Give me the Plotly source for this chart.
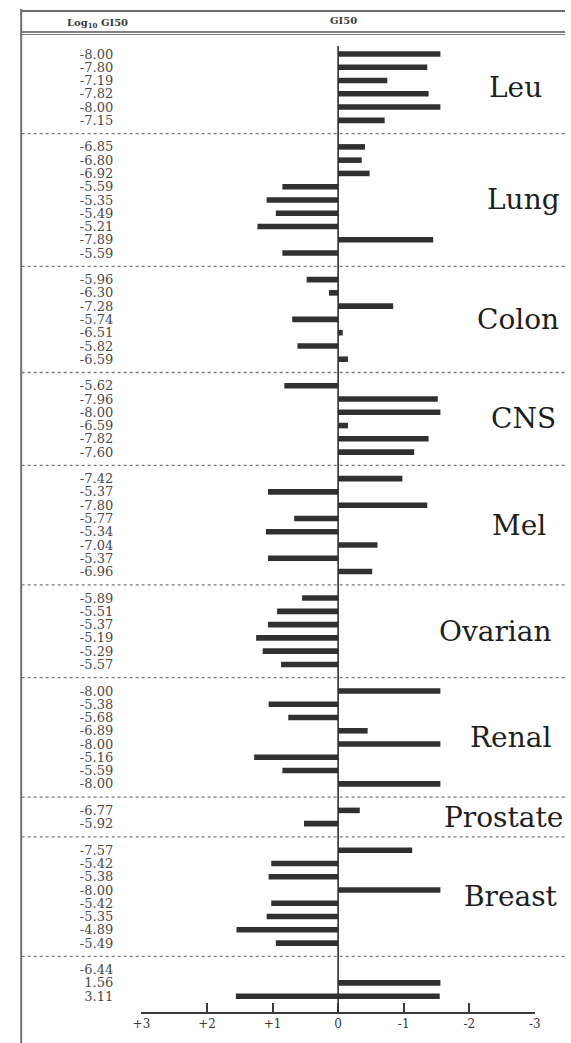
import plotly.graph_objects as go

# ---------------- data (log10 GI50 per cell line, grouped by panel) ----------------
groups = ["Leu", "Lung", "Colon", "CNS", "Mel", "Ovarian", "Renal", "Prostate", "Breast"]
leu = [-8.00, -7.80, -7.19, -7.82, -8.00, -7.15]
lung = [-6.85, -6.80, -6.92, -5.59, -5.35, -5.49, -5.21, -7.89, -5.59]
colon = [-5.96, -6.30, -7.28, -5.74, -6.51, -5.82, -6.59]
cns = [-5.62, -7.96, -8.00, -6.59, -7.82, -7.60]
mel = [-7.42, -5.37, -7.80, -5.77, -5.34, -7.04, -5.37, -6.96]
ovarian = [-5.89, -5.51, -5.37, -5.19, -5.29, -5.57]
renal = [-8.00, -5.38, -5.68, -6.89, -8.00, -5.16, -5.59, -8.00]
prostate = [-6.77, -5.92]
breast = [-7.57, -5.42, -5.38, -8.00, -5.42, -5.35, -4.89, -5.49]
panel_values = [leu, lung, colon, cns, mel, ovarian, renal, prostate, breast]

mean_log = -6.44   # MG-MID
delta = 1.56
range_ = 3.11
summary_labels = ["-6.44", "1.56", "3.11"]

x_ticks = [3, 2, 1, 0, -1, -2, -3]
x_tick_text = ["+3", "+2", "+1", "0", "-1", "-2", "-3"]

# ---------------- layout helpers ----------------
W, H = 571, 1043
def px_x(p):
    return p / W
def px_y(p):
    return 1 - p / H

PITCH = 13.27      # pixels per row slot
FIRST_ROW_PX = 54  # pixel y of first row
label_x_px = [520, 528, 523, 528, 524, 500, 515, 508, 516]  # group label centres

# build row slots (a separator occupies one slot between panels)
slot = 0
row_slots, row_text, bar_x = [], [], []
sep_slots, group_centres = [], []
for vals in panel_values:
    start = slot
    for v in vals:
        row_slots.append(slot)
        row_text.append(f"{v:.2f}")
        bar_x.append(round(v - mean_log, 2))
        slot += 1
    group_centres.append((start + slot - 1) / 2)
    sep_slots.append(slot)
    slot += 1
summary_slots = [slot, slot + 1, slot + 2]
all_slots = row_slots + summary_slots
all_text = row_text + summary_labels

y_top = -FIRST_ROW_PX / PITCH
y_bot = (H - FIRST_ROW_PX) / PITCH
AXIS_PX = 1013

BAR_COLOR = "#303030"

fig = go.Figure()
fig.add_trace(go.Bar(
    x=bar_x, y=row_slots, orientation="h", width=0.42,
    marker=dict(color=BAR_COLOR, line=dict(width=0)),
    hoverinfo="skip", showlegend=False,
))
fig.add_trace(go.Bar(
    x=[-delta, -range_], y=summary_slots[1:], base=[0, delta],
    orientation="h", width=0.42,
    marker=dict(color=BAR_COLOR, line=dict(width=0)),
    hoverinfo="skip", showlegend=False,
))

shapes = []
# top border and header line
shapes.append(dict(type="line", xref="paper", yref="paper", x0=px_x(12), x1=1,
                   y0=px_y(11), y1=px_y(11), line=dict(color="#6a6a6a", width=2)))
shapes.append(dict(type="line", xref="paper", yref="paper", x0=px_x(12), x1=1,
                   y0=px_y(32), y1=px_y(32), line=dict(color="#555555", width=1.5)))
shapes.append(dict(type="line", xref="paper", yref="paper", x0=px_x(12), x1=1,
                   y0=px_y(34.5), y1=px_y(34.5), line=dict(color="#777777", width=1.2)))
# left border
shapes.append(dict(type="line", xref="paper", yref="paper", x0=px_x(12.5), x1=px_x(12.5),
                   y0=px_y(9), y1=0, line=dict(color="#707070", width=2)))
# dotted panel separators
for s in sep_slots:
    shapes.append(dict(type="line", xref="paper", yref="y", x0=px_x(13), x1=1,
                       y0=s, y1=s, line=dict(color="#7a7a7a", width=1.3, dash="dot")))
# zero line
shapes.append(dict(type="line", xref="x", yref="paper", x0=0, x1=0,
                   y0=px_y(46), y1=px_y(AXIS_PX), line=dict(color="#2e2e2e", width=1.6)))

annotations = []
annotations.append(dict(text="<b>Log<sub>10</sub> GI50</b>", xref="paper", yref="paper",
                        x=px_x(57), y=px_y(23), xanchor="left", yanchor="middle",
                        showarrow=False, font=dict(family="DejaVu Serif", size=10, color="#3a3a3a")))
annotations.append(dict(text="<b>GI50</b>", xref="paper", yref="paper",
                        x=px_x(344), y=px_y(21), xanchor="center", yanchor="middle",
                        showarrow=False, font=dict(family="DejaVu Serif", size=10, color="#3a3a3a")))
for name, c, lx in zip(groups, group_centres, label_x_px):
    annotations.append(dict(text=name, xref="paper", yref="y", x=px_x(lx), y=c,
                            xanchor="center", yanchor="middle", showarrow=False,
                            font=dict(family="DejaVu Serif", size=28, color="#1e1e1e")))

fig.update_layout(
    width=W, height=H,
    margin=dict(l=0, r=0, t=0, b=0),
    paper_bgcolor="white", plot_bgcolor="white",
    barmode="overlay",
    shapes=shapes, annotations=annotations,
    xaxis=dict(
        domain=[px_x(136), px_x(540)], range=[3, -3],
        anchor="free", position=px_y(AXIS_PX),
        tickvals=x_ticks, ticktext=x_tick_text,
        ticks="inside", ticklen=9, tickwidth=1.5, tickcolor="#3a3a3a",
        showline=True, linecolor="#3a3a3a", linewidth=1.5,
        showgrid=False, zeroline=False,
        tickfont=dict(family="DejaVu Serif", size=12, color="#3a3a3a"),
        fixedrange=True,
    ),
    yaxis=dict(
        domain=[0, 1], range=[y_bot, y_top],
        anchor="free", position=px_x(107),
        tickvals=all_slots, ticktext=all_text,
        ticks="", showline=False, showgrid=False, zeroline=False,
        tickfont=dict(family="DejaVu Serif", size=13, color="#4a4a4a"),
        fixedrange=True,
    ),
)

fig.write_html(
    "out.html",
    config={"displayModeBar": False},
    post_script="document.body.style.margin='0';document.body.style.overflow='hidden';",
)
